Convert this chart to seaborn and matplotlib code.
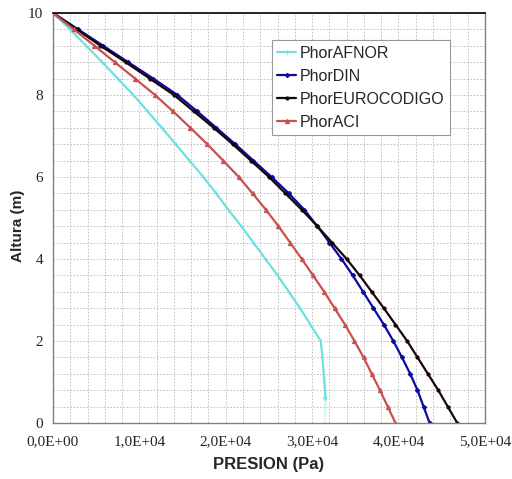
import matplotlib
matplotlib.use("Agg")
import matplotlib.pyplot as plt
import numpy as np
import pandas as pd
import seaborn as sns
from matplotlib.ticker import MultipleLocator

# alturas (m), cada 0.4 m
altura = [0.0, 0.4, 0.8, 1.2, 1.6, 2.0, 2.4, 2.8, 3.2, 3.6, 4.0, 4.4, 4.8,
          5.2, 5.6, 6.0, 6.4, 6.8, 7.2, 7.6, 8.0, 8.4, 8.8, 9.2, 9.6, 10.0]

# presiones (Pa)
phor_afnor = [31400, 31550, 31550, 31400, 31200, 31000, 29800, 28600, 27300,
              26000, 24600, 23200, 21800, 20300, 18900, 17400, 15800, 14200,
              12600, 10950, 9300, 7500, 5700, 3850, 1950, 0]
phor_din = [43600, 42900, 42200, 41350, 40400, 39400, 38300, 37100, 35900,
            34700, 33400, 32000, 30600, 29100, 27300, 25300, 23200, 21100,
            18900, 16700, 14400, 11600, 8700, 5800, 2900, 0]
phor_euro = [46800, 45700, 44600, 43400, 42200, 41000, 39650, 38300, 36900,
             35500, 34000, 32300, 30600, 28800, 26900, 25000, 22900, 20800,
             18600, 16300, 14000, 11200, 8400, 5500, 2750, 0]
phor_aci = [39650, 38750, 37850, 36900, 35950, 34900, 33800, 32600, 31400,
            30100, 28800, 27450, 26100, 24650, 23100, 21500, 19700, 17850,
            15900, 13900, 11800, 9500, 7150, 4800, 2400, 0]

series = ["PhorAFNOR", "PhorDIN", "PhorEUROCODIGO", "PhorACI"]
colors = ["#6ee0e0", "#0a0aa0", "#1a0505", "#c8504f"]
markers = ["|", "D", "o", "^"]
msizes = [3, 2.2, 2.2, 3]

xtick_vals = [0, 10000, 20000, 30000, 40000, 50000]
xtick_labels = ["0,0E+00", "1,0E+04", "2,0E+04", "3,0E+04", "4,0E+04", "5,0E+04"]
ytick_vals = [0, 2, 4, 6, 8, 10]

sns.set_style("white")
plt.rcParams["font.family"] = ["Liberation Sans", "DejaVu Sans"]

fig = plt.figure(figsize=(5.12, 4.79), dpi=100)
ax = fig.add_axes([0.1035, 0.117, 0.8435, 0.856])

for name, vals, c, m, ms in zip(series, [phor_afnor, phor_din, phor_euro, phor_aci],
                                colors, markers, msizes):
    df = pd.DataFrame({"p": vals, "h": altura})
    sns.lineplot(data=df, x="p", y="h", sort=False, ax=ax, color=c, label=name,
                 marker=m, markersize=ms, markeredgewidth=0.8, markeredgecolor=c,
                 linewidth=1.6)

ax.set_xlim(0, 50000)
ax.set_ylim(0, 10)
ax.xaxis.set_minor_locator(MultipleLocator(2000))
ax.yaxis.set_minor_locator(MultipleLocator(0.4))
ax.grid(which="both", color="#b8b8b8", linestyle=(0, (2, 2)), linewidth=0.6)
ax.set_axisbelow(True)

ax.set_xticks(xtick_vals)
ax.set_xticklabels(xtick_labels, family="Liberation Serif", fontsize=11)
ax.set_yticks(ytick_vals)
ax.set_yticklabels([str(v) for v in ytick_vals], family="Liberation Serif", fontsize=11)
ax.tick_params(axis="both", which="major", length=4, width=0.8, color="#808080",
               direction="out", pad=3)
ax.tick_params(axis="x", which="major", pad=5)
ax.tick_params(axis="both", which="minor", length=0)

for side in ["left", "bottom", "right"]:
    ax.spines[side].set_color("#808080")
    ax.spines[side].set_linewidth(1.0)
ax.spines["top"].set_color("black")
ax.spines["top"].set_linewidth(1.2)

ax.set_xlabel("PRESION (Pa)", fontsize=12, fontweight="bold")
ax.set_ylabel("Altura (m)", fontsize=11, fontweight="bold")
ax.xaxis.set_label_coords(0.5, -0.083)
ax.yaxis.set_label_coords(-0.081, 0.48)
ax.yaxis.label.set_va("center")

leg = ax.legend(loc="upper right", bbox_to_anchor=(0.919, 0.934), borderaxespad=0,
                fontsize=11.5, frameon=True, fancybox=False, edgecolor="#999999",
                framealpha=1, handlelength=1.2, handletextpad=0.2, borderpad=0.35,
                labelspacing=0.5)
leg.get_frame().set_linewidth(0.8)

fig.savefig("out.png", dpi=100)
